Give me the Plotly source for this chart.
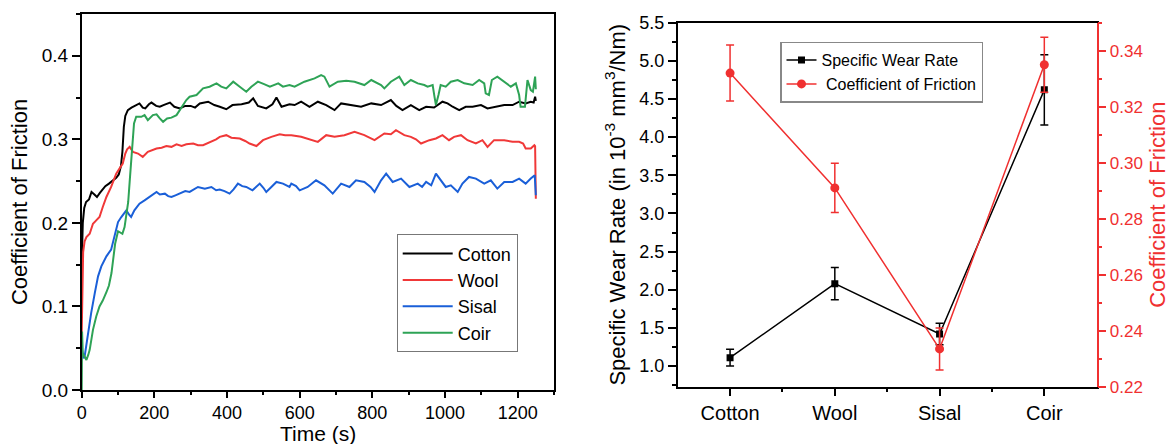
import plotly.graph_objects as go

# ---------------- Left panel data: COF vs time ----------------
cotton_t = [0, 3, 7, 12, 20, 27, 35, 42, 50, 58, 65, 75, 85, 95, 102, 108, 112, 116, 120, 127, 137, 147, 159, 168, 175, 185, 192, 205, 215, 225, 243, 255, 270, 285, 300, 312, 325, 348, 365, 380, 398, 415, 440, 460, 472, 485, 508, 525, 536, 550, 572, 586, 604, 627, 650, 673, 696, 714, 741, 769, 797, 824, 851, 866, 883, 906, 929, 948, 970, 993, 1007, 1021, 1039, 1057, 1076, 1099, 1117, 1140, 1163, 1186, 1204, 1222, 1236, 1244, 1248, 1250]
cotton_cof = [0.15, 0.20, 0.218, 0.225, 0.228, 0.237, 0.234, 0.231, 0.236, 0.240, 0.244, 0.247, 0.250, 0.254, 0.258, 0.268, 0.285, 0.315, 0.328, 0.335, 0.338, 0.340, 0.343, 0.338, 0.337, 0.342, 0.344, 0.340, 0.339, 0.341, 0.344, 0.339, 0.337, 0.340, 0.340, 0.338, 0.343, 0.345, 0.341, 0.339, 0.336, 0.341, 0.342, 0.344, 0.349, 0.340, 0.337, 0.342, 0.350, 0.339, 0.342, 0.341, 0.345, 0.339, 0.345, 0.341, 0.335, 0.343, 0.341, 0.339, 0.343, 0.341, 0.347, 0.340, 0.335, 0.341, 0.335, 0.339, 0.338, 0.345, 0.343, 0.339, 0.335, 0.339, 0.339, 0.341, 0.337, 0.339, 0.341, 0.341, 0.345, 0.343, 0.345, 0.344, 0.351, 0.346]

wool_t = [0, 2, 4, 8, 13, 22, 31, 40, 49, 58, 68, 81, 95, 104, 113, 120, 125, 132, 141, 155, 168, 182, 195, 206, 220, 233, 247, 261, 275, 288, 307, 320, 334, 357, 370, 380, 398, 412, 435, 450, 462, 481, 499, 522, 545, 560, 577, 604, 622, 650, 673, 696, 723, 751, 778, 806, 833, 851, 865, 888, 906, 920, 934, 957, 975, 993, 1011, 1025, 1044, 1062, 1085, 1103, 1117, 1135, 1163, 1186, 1204, 1215, 1222, 1236, 1246, 1248, 1250]
wool_cof = [0.068, 0.13, 0.165, 0.178, 0.183, 0.187, 0.199, 0.203, 0.207, 0.219, 0.231, 0.243, 0.259, 0.265, 0.271, 0.283, 0.288, 0.291, 0.285, 0.283, 0.279, 0.285, 0.287, 0.289, 0.290, 0.292, 0.291, 0.294, 0.292, 0.294, 0.295, 0.293, 0.293, 0.297, 0.300, 0.303, 0.305, 0.302, 0.301, 0.298, 0.295, 0.292, 0.299, 0.303, 0.306, 0.305, 0.305, 0.303, 0.301, 0.297, 0.305, 0.303, 0.305, 0.309, 0.305, 0.299, 0.307, 0.306, 0.311, 0.305, 0.303, 0.300, 0.295, 0.299, 0.301, 0.305, 0.299, 0.303, 0.305, 0.299, 0.295, 0.299, 0.291, 0.299, 0.299, 0.297, 0.297, 0.295, 0.289, 0.289, 0.293, 0.292, 0.229]

sisal_t = [0, 5, 8, 12, 17, 26, 36, 45, 54, 68, 81, 91, 100, 109, 118, 123, 130, 136, 145, 159, 173, 187, 196, 206, 215, 229, 238, 247, 258, 270, 285, 297, 310, 320, 339, 357, 370, 380, 393, 407, 418, 430, 442, 453, 470, 490, 500, 508, 522, 536, 554, 572, 577, 590, 600, 622, 645, 668, 691, 700, 714, 737, 755, 778, 795, 806, 815, 824, 838, 856, 879, 902, 925, 937, 948, 962, 975, 989, 1002, 1016, 1035, 1048, 1066, 1085, 1108, 1126, 1144, 1163, 1186, 1204, 1222, 1236, 1247, 1250]
sisal_cof = [0.05, 0.038, 0.040, 0.052, 0.068, 0.092, 0.116, 0.136, 0.148, 0.160, 0.168, 0.187, 0.201, 0.207, 0.213, 0.215, 0.210, 0.207, 0.215, 0.223, 0.227, 0.231, 0.234, 0.237, 0.234, 0.235, 0.232, 0.231, 0.233, 0.235, 0.238, 0.237, 0.240, 0.243, 0.241, 0.243, 0.239, 0.240, 0.238, 0.235, 0.240, 0.247, 0.244, 0.243, 0.239, 0.247, 0.242, 0.237, 0.243, 0.249, 0.247, 0.243, 0.247, 0.244, 0.239, 0.243, 0.251, 0.245, 0.235, 0.240, 0.247, 0.243, 0.251, 0.249, 0.243, 0.237, 0.245, 0.251, 0.259, 0.249, 0.253, 0.243, 0.247, 0.243, 0.249, 0.245, 0.259, 0.251, 0.243, 0.245, 0.237, 0.247, 0.255, 0.253, 0.247, 0.251, 0.241, 0.249, 0.249, 0.253, 0.247, 0.253, 0.257, 0.233]

coir_t = [0, 1, 3, 8, 13, 18, 22, 31, 40, 49, 58, 68, 75, 82, 88, 92, 100, 106, 112, 118, 124, 128, 133, 137, 141, 144, 150, 164, 173, 182, 196, 206, 215, 224, 235, 247, 261, 270, 279, 288, 297, 316, 334, 352, 371, 384, 398, 417, 435, 453, 467, 485, 502, 518, 541, 554, 572, 586, 613, 641, 659, 668, 682, 705, 728, 751, 778, 797, 824, 833, 851, 874, 888, 906, 925, 943, 952, 966, 971, 975, 982, 988, 1002, 1016, 1035, 1053, 1076, 1094, 1108, 1112, 1121, 1129, 1144, 1163, 1181, 1195, 1204, 1208, 1220, 1227, 1236, 1242, 1248, 1250]
coir_cof = [0.0, 0.07, 0.044, 0.040, 0.036, 0.042, 0.048, 0.072, 0.088, 0.100, 0.107, 0.117, 0.125, 0.140, 0.160, 0.175, 0.190, 0.188, 0.187, 0.195, 0.210, 0.225, 0.255, 0.280, 0.305, 0.319, 0.327, 0.327, 0.329, 0.323, 0.329, 0.330, 0.325, 0.321, 0.325, 0.326, 0.329, 0.335, 0.341, 0.347, 0.351, 0.353, 0.361, 0.363, 0.367, 0.363, 0.361, 0.369, 0.363, 0.357, 0.363, 0.369, 0.366, 0.363, 0.367, 0.363, 0.365, 0.363, 0.369, 0.373, 0.377, 0.375, 0.363, 0.369, 0.370, 0.369, 0.365, 0.371, 0.365, 0.361, 0.369, 0.375, 0.365, 0.371, 0.367, 0.365, 0.363, 0.365, 0.351, 0.341, 0.353, 0.365, 0.363, 0.369, 0.371, 0.367, 0.365, 0.371, 0.367, 0.355, 0.353, 0.371, 0.375, 0.369, 0.363, 0.367, 0.353, 0.339, 0.339, 0.371, 0.359, 0.357, 0.375, 0.360]

series_names = ["Cotton", "Wool", "Sisal", "Coir"]
series_colors = ["#000000", "#f03838", "#1a5fd8", "#2ea356"]

# ---------------- Right panel data ----------------
categories = ["Cotton", "Wool", "Sisal", "Coir"]
wear_rate = [1.11, 2.08, 1.42, 4.62]
wear_err = [0.11, 0.21, 0.14, 0.46]
cof_mean = [0.332, 0.291, 0.2335, 0.335]
cof_err = [0.010, 0.0088, 0.0075, 0.0098]

FONT = "Liberation Sans, Arial, sans-serif"
RED = "#f03030"

fig = go.Figure()

for name, color, t, v in zip(series_names, series_colors,
                             [cotton_t, wool_t, sisal_t, coir_t],
                             [cotton_cof, wool_cof, sisal_cof, coir_cof]):
    fig.add_trace(go.Scatter(x=t, y=v, mode="lines", name=name,
                             line=dict(color=color, width=2),
                             xaxis="x", yaxis="y", legend="legend"))

xpos = list(range(len(categories)))
fig.add_trace(go.Scatter(x=xpos, y=wear_rate, mode="lines+markers",
                         name="Specific Wear Rate",
                         line=dict(color="black", width=1.5),
                         marker=dict(symbol="square", size=7, color="black"),
                         error_y=dict(type="data", array=wear_err, color="black",
                                      thickness=1.5, width=4),
                         xaxis="x2", yaxis="y2", legend="legend2"))
fig.add_trace(go.Scatter(x=xpos, y=cof_mean, mode="lines+markers",
                         name=" Coefficient of Friction",
                         line=dict(color=RED, width=1.5),
                         marker=dict(symbol="circle", size=9, color=RED),
                         error_y=dict(type="data", array=cof_err, color=RED,
                                      thickness=1.5, width=4),
                         xaxis="x2", yaxis="y3", legend="legend2"))

W, H = 1173, 444
def xd(a, b):
    return [a / W, b / W]
def yd(top, bottom):
    return [(H - bottom) / H, (H - top) / H]

axis_common = dict(showgrid=False, zeroline=False, showline=True, linewidth=1.5,
                   ticks="outside", ticklen=8, tickwidth=1.5, automargin=False)

fig.update_layout(
    width=W, height=H,
    margin=dict(l=0, r=0, t=0, b=0, autoexpand=False),
    paper_bgcolor="white", plot_bgcolor="white",
    font=dict(family=FONT, color="black"),
    showlegend=True,
    xaxis=dict(domain=xd(81.7, 554), range=[0, 1300], linecolor="black", mirror=True,
               tickcolor="black", dtick=200, tick0=0,
               tickfont=dict(size=18),
               minor=dict(dtick=100, ticks="outside", ticklen=3, tickwidth=1.5, tickcolor="black"),
               anchor="y", showgrid=False, zeroline=False, showline=True, linewidth=1.5,
               ticks="outside", ticklen=6, tickwidth=1.5, automargin=False),
    yaxis=dict(domain=yd(14, 390), range=[0, 0.45], linecolor="black", mirror=True,
               tickcolor="black", dtick=0.1, tick0=0, tickformat=".1f",
               tickfont=dict(size=19),
               minor=dict(dtick=0.05, ticks="outside", ticklen=4, tickwidth=1.5, tickcolor="black"),
               title=dict(text="Coefficient of Friction", font=dict(size=22), standoff=8),
               anchor="x", **axis_common),
    xaxis2=dict(domain=xd(677.7, 1096.7), range=[-0.5, 3.5], linecolor="black", mirror=True,
                tickcolor="black", tickmode="array", tickvals=xpos, ticktext=categories,
                tickfont=dict(size=20),
                minor=dict(tickmode="array", tickvals=[0.5, 1.5, 2.5], ticks="outside",
                           ticklen=4, tickwidth=1.5, tickcolor="black"),
                anchor="y2", **axis_common),
    yaxis2=dict(domain=yd(22.7, 386.7), range=[0.729, 5.5], linecolor="black",
                tickcolor="black", dtick=0.5, tick0=0, tickformat=".1f",
                tickfont=dict(size=18),
                minor=dict(dtick=0.25, ticks="outside", ticklen=4, tickwidth=1.5, tickcolor="black"),
                title=dict(text="Specific Wear Rate (in 10<sup>-3</sup> mm<sup>3</sup>/Nm)",
                           font=dict(size=22), standoff=8),
                anchor="x2", **axis_common),
    yaxis3=dict(range=[0.22, 0.35], overlaying="y2", side="right", anchor="x2",
                linecolor=RED, tickcolor=RED, dtick=0.02, tick0=0, tickformat=".2f",
                tickfont=dict(size=17, color=RED),
                minor=dict(dtick=0.01, ticks="outside", ticklen=4, tickwidth=1.5, tickcolor=RED),
                title=dict(text="Coefficient of Friction", font=dict(size=22, color=RED), standoff=8),
                **axis_common),
    legend=dict(x=396.7 / W, y=(H - 234.3) / H, xanchor="left", yanchor="top",
                bgcolor="white", bordercolor="#777777", borderwidth=1,
                font=dict(size=18), tracegroupgap=0, itemwidth=50),
    legend2=dict(x=780 / W, y=(H - 41.7) / H, xanchor="left", yanchor="top",
                 bgcolor="white", bordercolor="#888888", borderwidth=1.5,
                 font=dict(size=16), tracegroupgap=0),
    annotations=[dict(text="Time (s)", xref="paper", yref="paper",
                      x=(81.7 + 554) / 2 / W, y=-3 / H,
                      xanchor="center", yanchor="bottom", showarrow=False,
                      font=dict(size=21, color="black"))],
)

fig.write_html("out.html", config={"displayModeBar": False},
               post_script="document.body.style.margin='0';document.body.style.overflow='hidden';")
